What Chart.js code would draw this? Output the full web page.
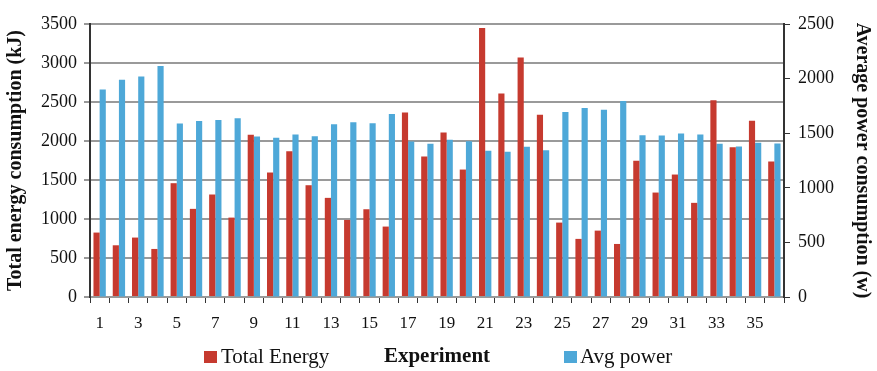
<!DOCTYPE html>
<html>
<head>
<meta charset="utf-8">
<script src="https://cdn.jsdelivr.net/npm/chart.js@4"></script>
<style>
  html, body { margin: 0; padding: 0; background: #fff; }
  #wrap { width: 877px; height: 371px; }
</style>
</head>
<body>
<div id="wrap"><canvas id="chart" width="877" height="371"></canvas></div>
<script>
const experiments = Array.from({ length: 36 }, (_, i) => String(i + 1));

// kJ per experiment
const totalEnergy = [
  826, 663, 762, 616, 1459, 1130, 1314, 1018, 2080, 1596,
  1870, 1433, 1271, 988, 1125, 903, 2366, 1801, 2109, 1634,
  3449, 2610, 3072, 2336, 954, 745, 851, 680, 1746, 1339,
  1570, 1207, 2524, 1921, 2259, 1737
];

// W per experiment
const avgPower = [
  1901, 1990, 2020, 2115, 1589, 1611, 1620, 1638, 1470, 1458,
  1488, 1473, 1583, 1601, 1592, 1675, 1424, 1403, 1440, 1427,
  1339, 1329, 1375, 1345, 1693, 1730, 1714, 1794, 1482, 1479,
  1498, 1488, 1403, 1378, 1412, 1406
];

const RED = "#c63a2f";
const BLUE = "#4ea8d8";
const FONT = "'Liberation Serif', 'Times New Roman', serif";

// legend drawn on both sides of the x axis title
const sideLegend = {
  id: "sideLegend",
  afterDraw(chart) {
    const ctx = chart.ctx;
    ctx.save();
    ctx.font = "21px " + FONT;
    ctx.textBaseline = "middle";
    const y = 357;
    ctx.fillStyle = RED;
    ctx.fillRect(204, y - 6, 13, 12);
    ctx.fillStyle = "#111";
    ctx.fillText("Total Energy", 221, y);
    ctx.fillStyle = BLUE;
    ctx.fillRect(564, y - 6, 13, 12);
    ctx.fillStyle = "#111";
    ctx.fillText("Avg power", 580, y);
    ctx.restore();
  }
};

const plainNumber = (v) => String(v);

new Chart(document.getElementById("chart"), {
  type: "bar",
  data: {
    labels: experiments,
    datasets: [
      {
        label: "Total Energy",
        data: totalEnergy,
        backgroundColor: RED,
        yAxisID: "yEnergy",
        categoryPercentage: 0.64,
        barPercentage: 1.0
      },
      {
        label: "Avg power",
        data: avgPower,
        backgroundColor: BLUE,
        yAxisID: "yPower",
        categoryPercentage: 0.64,
        barPercentage: 1.0
      }
    ]
  },
  options: {
    responsive: false,
    animation: false,
    layout: { padding: { top: 24, left: 0, right: 0, bottom: 0 } },
    plugins: {
      legend: { display: false },
      tooltip: { enabled: false }
    },
    scales: {
      x: {
        offset: true,
        grid: { display: true, drawOnChartArea: false, offset: true, tickLength: 6, color: "#333", lineWidth: 1 },
        border: { display: false },
        ticks: {
          autoSkip: false,
          maxRotation: 0,
          color: "#111",
          font: { family: FONT, size: 17 },
          padding: 10,
          callback: function (v, i) { return i % 2 === 0 ? this.getLabelForValue(v) : ""; }
        },
        title: {
          display: true,
          text: "Experiment",
          color: "#111",
          font: { family: FONT, size: 21, weight: "bold" },
          padding: { top: 0, bottom: 2 }
        },
        afterFit(scale) { scale.height = 74; }
      },
      yEnergy: {
        position: "left",
        min: 0,
        max: 3500,
        ticks: { stepSize: 500, color: "#111", font: { family: FONT, size: 18 }, padding: 7, callback: plainNumber },
        grid: { color: "#9a9a9a", lineWidth: 2, tickLength: 6, tickColor: "#333", tickWidth: 1 },
        border: { color: "#333", width: 2 },
        title: {
          display: true,
          text: "Total energy consumption (kJ)",
          color: "#111",
          font: { family: FONT, size: 20, weight: "bold" },
          padding: { top: 4, bottom: 0 }
        },
        afterFit(scale) { scale.width = 90; }
      },
      yPower: {
        position: "right",
        min: 0,
        max: 2500,
        ticks: { stepSize: 500, color: "#111", font: { family: FONT, size: 18 }, padding: 8, callback: plainNumber },
        grid: { drawOnChartArea: false, tickLength: 6, color: "#333", lineWidth: 1 },
        border: { color: "#333", width: 2 },
        title: {
          display: true,
          text: "Average power consumption (w)",
          color: "#111",
          font: { family: FONT, size: 20, weight: "bold" },
          padding: { top: 3, bottom: 0 }
        },
        afterFit(scale) { scale.width = 93; }
      }
    }
  },
  plugins: [sideLegend]
});
</script>
</body>
</html>
